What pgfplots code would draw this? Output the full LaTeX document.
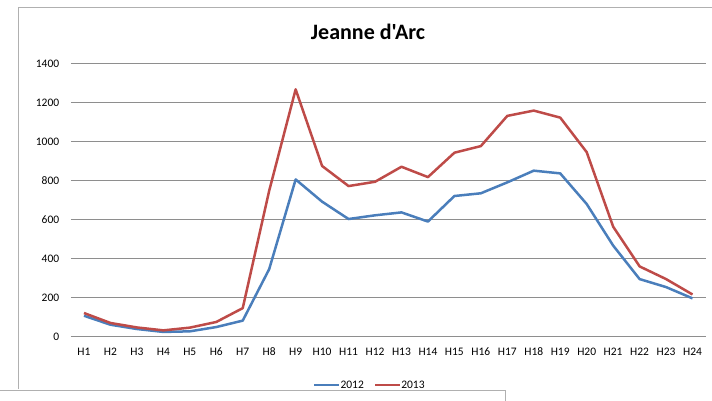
\documentclass[border=0pt]{standalone}
\usepackage{pgfplots}
\pgfplotsset{compat=1.18}
\usepackage{fontspec}
\setmainfont{Carlito}
\definecolor{xlblue}{HTML}{4A7EBB}
\definecolor{xlred}{HTML}{BE4B48}
\definecolor{gridgray}{HTML}{8E8E8E}
\begin{document}
\begin{tikzpicture}[x=1pt,y=1pt]
\path[use as bounding box] (0,0) rectangle (712,401);
% outer chart frame
\draw[gridgray!70, line width=1pt] (18,12) -- (18,393) -- (712,393);
\node[font=\fontsize{22}{24}\selectfont\bfseries] at (368,369) {\addfontfeatures{Ligatures=TeXOff}Jeanne d'Arc};
\begin{axis}[
  at={(70.75pt,64pt)}, anchor=south west,
  scale only axis, width=635pt, height=273pt,
  xmin=0.5, xmax=24.5, ymin=0, ymax=1400,
  xtick={1,...,24},
  xticklabels={H1,H2,H3,H4,H5,H6,H7,H8,H9,H10,H11,H12,H13,H14,H15,H16,H17,H18,H19,H20,H21,H22,H23,H24},
  ytick={0,200,...,1400},
  axis x line*=bottom, axis y line*=left,
  x axis line style={gridgray, line width=1pt, -},
  y axis line style={draw=none, -},
  ymajorgrids, grid style={gridgray, line width=1pt},
  major tick length=0pt,
  tick label style={font=\fontsize{11.5}{13}\selectfont},
  /pgf/number format/assume math mode=true,
  /pgf/number format/1000 sep={},
  xticklabel style={anchor=base, yshift=-19pt},
  yticklabel style={xshift=-8pt},
  ytick style={draw=none}, xtick style={draw=none},
  clip=false,
  legend columns=2,
  legend style={draw=none, fill=none, at={(0.471,-0.176)}, anchor=center,
    font=\fontsize{11.5}{13}\selectfont, /tikz/every even column/.append style={column sep=8pt},
    /tikz/every odd column/.append style={column sep=-2pt}},
  legend image code/.code={\draw[#1, line width=2.5pt] (0pt,0pt) -- (25pt,0pt);},
]
\addplot[xlblue, line width=2.5pt, line join=round] coordinates {
(1,109) (2,63) (3,41) (4,26) (5,29) (6,51) (7,84) (8,348) (9,808) (10,694) (11,605) (12,624)
(13,639) (14,592) (15,723) (16,737) (17,793) (18,853) (19,839) (20,682) (21,469) (22,297) (23,256) (24,198)};
\addlegendentry{2012}
\addplot[xlred, line width=2.5pt, line join=round] coordinates {
(1,123) (2,72) (3,49) (4,34) (5,48) (6,77) (7,148) (8,750) (9,1270) (10,877) (11,774) (12,796)
(13,873) (14,820) (15,945) (16,979) (17,1134) (18,1161) (19,1125) (20,948) (21,566) (22,362) (23,297) (24,218)};
\addlegendentry{2013}
\end{axis}
% overlapping window at the bottom
\fill[white] (0,0) rectangle (505,10);
\draw[gridgray!70, line width=1pt] (0,10) -- (505,10) -- (505,0);
\end{tikzpicture}
\end{document}
